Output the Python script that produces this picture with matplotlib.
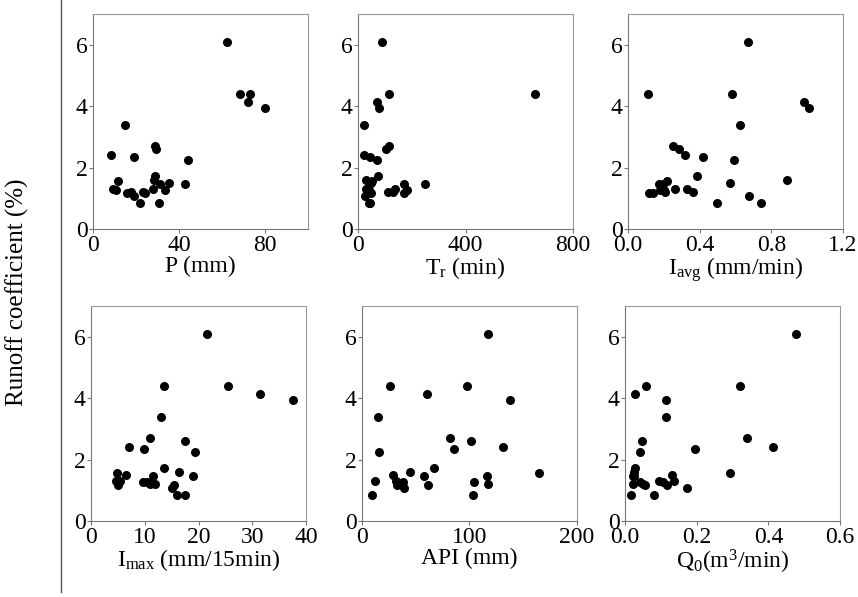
import matplotlib
matplotlib.use("Agg")
import matplotlib.pyplot as plt
from matplotlib.lines import Line2D

plt.rcParams['font.family'] = ['Liberation Serif', 'DejaVu Serif']
plt.rcParams['mathtext.fontset'] = 'custom'
plt.rcParams['mathtext.rm'] = 'Liberation Serif'
plt.rcParams['mathtext.it'] = 'Liberation Serif:italic'

# runoff coefficient (%) for each event
runoff = [6.10, 4.40, 4.38, 4.12, 3.95, 3.38, 2.71, 2.61, 2.41, 2.33,
          2.25, 1.72, 1.58, 1.55, 1.50, 1.48, 1.45, 1.30, 1.29, 1.28,
          1.28, 1.22, 1.20, 1.18, 1.18, 1.07, 0.85, 0.85]

# influencing factors, same event order
P = [62.5, 68.4, 72.9, 72.0, 80.0, 15.1, 29.0, 29.5, 8.2, 19.1,
     44.0, 29.0, 28.4, 11.6, 35.4, 31.0, 43.0, 28.1, 9.4, 10.8,
     33.5, 17.9, 23.3, 15.9, 24.0, 19.1, 21.9, 30.6]
Tr = [90, 116, 660, 72, 77, 21, 114, 103, 22, 43,
      72, 73, 28, 52, 47, 171, 249, 139, 31, 183,
      41, 113, 130, 47, 172, 26, 40, 44]
Iavg = [0.672, 0.109, 0.581, 0.985, 1.013, 0.623, 0.250, 0.284, 0.319, 0.421,
        0.592, 0.384, 0.889, 0.217, 0.571, 0.171, 0.193, 0.262, 0.328, 0.180,
        0.202, 0.365, 0.208, 0.117, 0.137, 0.677, 0.497, 0.742]
Imax = [21.5, 13.5, 25.5, 31.4, 37.5, 13.1, 10.9, 17.5, 7.0, 9.9,
        19.4, 13.5, 16.4, 4.8, 6.5, 18.9, 11.5, 4.7, 5.4, 9.7,
        10.5, 11.0, 11.9, 5.1, 15.5, 15.1, 16.0, 17.5]
API = [117.6, 26.5, 97.5, 60.2, 138, 14.5, 82, 101, 131, 85.8,
       15.4, 67, 44.4, 164.5, 29, 116, 57.4, 11.7, 31.8, 38.6,
       104.3, 36.7, 117.6, 32.4, 61.4, 38.9, 9.3, 103.7]
Q0 = [0.478, 0.0575, 0.322, 0.027, 0.114, 0.114, 0.340, 0.047, 0.412, 0.194,
      0.041, 0.027, 0.025, 0.293, 0.131, 0.021, 0.026, 0.138, 0.096, 0.106,
      0.042, 0.021, 0.049, 0.057, 0.118, 0.172, 0.016, 0.080]

panels = [
    (P, r'P (mm)', (0, 100), [0, 40, 80], None),
    (Tr, r'T$_\mathrm{r}$ (min)', (0, 800), [0, 400, 800], None),
    (Iavg, r'I$_\mathrm{avg}$ (mm/min)', (0, 1.2), [0.0, 0.4, 0.8, 1.2], '{:.1f}'),
    (Imax, r'I$_\mathrm{max}$ (mm/15min)', (0, 40), [0, 10, 20, 30, 40], None),
    (API, r'API (mm)', (0, 200), [0, 100, 200], None),
    (Q0, r'Q$_\mathrm{0}$(m$^\mathrm{3}$/min)', (0, 0.6), [0.0, 0.2, 0.4, 0.6], '{:.1f}'),
]

W, H = 858, 597
fig = plt.figure(figsize=(W / 100, H / 100), dpi=100)

# axes boxes in pixels: left, top
boxes = [(93, 14), (358, 14), (628, 14), (91, 306), (362, 306), (625, 306)]
size = 215

for (x, label, xlim, xticks, fmt), (left, top) in zip(panels, boxes):
    ax = fig.add_axes([left / W, 1 - (top + size) / H, size / W, size / H])
    ax.scatter(x, runoff, s=30, color='black', zorder=3, clip_on=False)
    ax.set_xlim(*xlim)
    ax.set_ylim(0, 7)
    ax.set_xticks(xticks)
    if fmt:
        ax.set_xticklabels([fmt.format(t) for t in xticks])
    ax.set_yticks([0, 2, 4, 6])
    ax.tick_params(direction='out', length=3, width=0.8, color='#777777',
                   labelsize=17, pad=1)
    for side in ['left', 'bottom']:
        ax.spines[side].set_color('#777777')
    for side in ['top', 'right']:
        ax.spines[side].set_color('#999999')
    ax.set_xlabel(label, fontsize=17, labelpad=0)

fig.text(17 / W, 1 - 292 / H, 'Runoff coefficient (%)', rotation=90, fontsize=18,
         ha='center', va='center')
fig.add_artist(Line2D([61 / W, 61 / W], [1, 1 - 592 / H], transform=fig.transFigure,
                      color='#555555', linewidth=1))

fig.savefig('out.png', dpi=100)
